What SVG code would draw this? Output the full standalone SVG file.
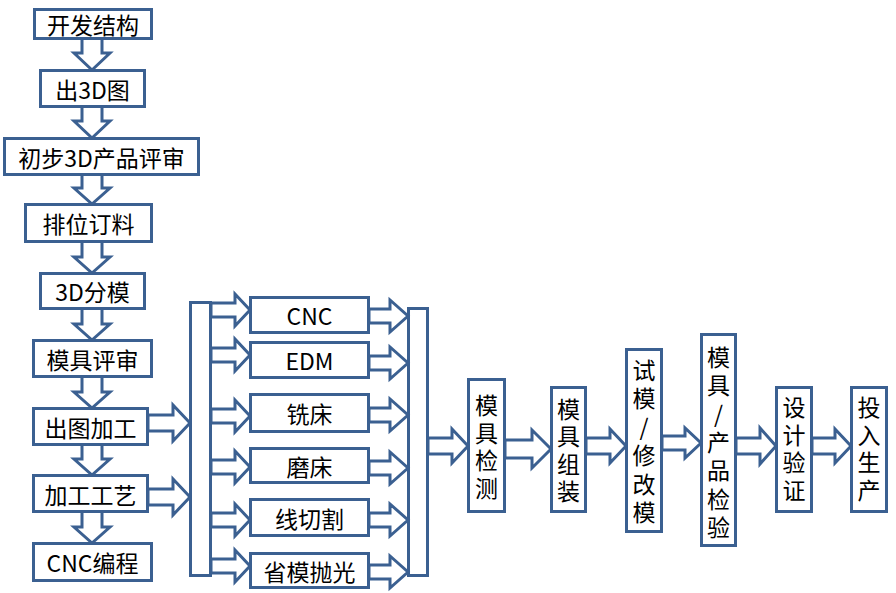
<svg xmlns="http://www.w3.org/2000/svg" width="896" height="593" viewBox="0 0 896 593">
<style>
.b{fill:#fff;stroke:#3B6091;stroke-width:3}
.a{fill:#fff;stroke:#3B6091;stroke-width:3;stroke-linejoin:miter}
.t{font-family:"Noto Sans CJK SC","Noto Sans",sans-serif;font-size:23px;fill:#000;text-anchor:middle;dominant-baseline:central}
</style>
<rect width="896" height="593" fill="#fff"/>
<g id="connectors">
<rect class="b" x="190.5" y="302.5" width="20" height="273"/>
<rect class="b" x="408.5" y="308.5" width="19" height="267"/>
<polygon class="a" points="82,38 102,38 102,53 110,53 92,70 74,53 82,53"/>
<polygon class="a" points="82,106 102,106 102,121 110,121 92,138 74,121 82,121"/>
<polygon class="a" points="82,174 102,174 102,188 110,188 92,204 74,188 82,188"/>
<polygon class="a" points="82,241 102,241 102,257 110,257 92,273 74,257 82,257"/>
<polygon class="a" points="82,308 102,308 102,324 110,324 92,340 74,324 82,324"/>
<polygon class="a" points="82,376 102,376 102,392 110,392 92,408 74,392 82,392"/>
<polygon class="a" points="82,444 102,444 102,459 110,459 92,475 74,459 82,459"/>
<polygon class="a" points="82,511 102,511 102,527 110,527 92,543 74,527 82,527"/>
<polygon class="a" points="148,415 173,415 173,405 190,423 173,441 173,431 148,431"/>
<polygon class="a" points="148,489 173,489 173,479 190,497 173,515 173,505 148,505"/>
<polygon class="a" points="211,303 235,303 235,294 250,310 235,326 235,317 211,317"/>
<polygon class="a" points="211,348 235,348 235,339 250,355 235,371 235,362 211,362"/>
<polygon class="a" points="211,409 235,409 235,400 250,416 235,432 235,423 211,423"/>
<polygon class="a" points="211,460 235,460 235,451 250,467 235,483 235,474 211,474"/>
<polygon class="a" points="211,513 235,513 235,504 250,520 235,536 235,527 211,527"/>
<polygon class="a" points="211,559 235,559 235,550 250,566 235,582 235,573 211,573"/>
<polygon class="a" points="369,309 390,309 390,300 408,316 390,332 390,323 369,323"/>
<polygon class="a" points="369,356 390,356 390,347 408,363 390,379 390,370 369,370"/>
<polygon class="a" points="369,408 390,408 390,399 408,415 390,431 390,422 369,422"/>
<polygon class="a" points="369,461 390,461 390,452 408,468 390,484 390,475 369,475"/>
<polygon class="a" points="369,513 390,513 390,504 408,520 390,536 390,527 369,527"/>
<polygon class="a" points="369,565 390,565 390,556 408,572 390,588 390,579 369,579"/>
<polygon class="a" points="428,438 452,438 452,429 468,446 452,463 452,454 428,454"/>
<polygon class="a" points="505,440 532,440 532,430 551,449 532,468 532,458 505,458"/>
<polygon class="a" points="586,438 610,438 610,429 626,446 610,463 610,454 586,454"/>
<polygon class="a" points="662,436 685,436 685,428 701,443 685,458 685,450 662,450"/>
<polygon class="a" points="736,438 760,438 760,428 776,446 760,464 760,454 736,454"/>
<polygon class="a" points="812,438 835,438 835,429 851,446 835,463 835,454 812,454"/>
</g>
<g id="n1"><rect class="b" x="34.5" y="9.5" width="117" height="29"/><text class="t" x="93" y="24">开发结构</text></g>
<g id="n2"><rect class="b" x="40.5" y="70.5" width="104" height="36"/><text class="t" x="92.5" y="88.5">出3D图</text></g>
<g id="n3"><rect class="b" x="4.5" y="138.5" width="194" height="36"/><text class="t" x="101.5" y="156.5">初步3D产品评审</text></g>
<g id="n4"><rect class="b" x="25.5" y="204.5" width="126" height="37"/><text class="t" x="88.5" y="223">排位订料</text></g>
<g id="n5"><rect class="b" x="40.5" y="273.5" width="104" height="35"/><text class="t" x="92.5" y="291">3D分模</text></g>
<g id="n6"><rect class="b" x="33.5" y="340.5" width="118" height="36"/><text class="t" x="92.5" y="358.5">模具评审</text></g>
<g id="n7"><rect class="b" x="33.5" y="408.5" width="114" height="36"/><text class="t" x="90.5" y="426.5">出图加工</text></g>
<g id="n8"><rect class="b" x="33.5" y="475.5" width="114" height="36"/><text class="t" x="90.5" y="493.5">加工工艺</text></g>
<g id="n9"><rect class="b" x="33.5" y="543.5" width="118" height="37"/><text class="t" x="92.5" y="562">CNC编程</text></g>
<g id="m1"><rect class="b" x="250.5" y="297.5" width="118" height="35"/><text class="t" x="309.5" y="315">CNC</text></g>
<g id="m2"><rect class="b" x="250.5" y="342.5" width="118" height="35"/><text class="t" x="309.5" y="360">EDM</text></g>
<g id="m3"><rect class="b" x="250.5" y="394.5" width="118" height="37"/><text class="t" x="309.5" y="413">铣床</text></g>
<g id="m4"><rect class="b" x="250.5" y="448.5" width="118" height="34"/><text class="t" x="309.5" y="465.5">磨床</text></g>
<g id="m5"><rect class="b" x="250.5" y="499.5" width="118" height="36"/><text class="t" x="309.5" y="517.5">线切割</text></g>
<g id="m6"><rect class="b" x="250.5" y="553.5" width="118" height="34"/><text class="t" x="309.5" y="570.5">省模抛光</text></g>
<g id="r1"><rect class="b" x="468.5" y="379.5" width="36" height="132"/><text class="t" x="486.5"><tspan x="486.5" y="404">模</tspan><tspan x="486.5" y="431.5">具</tspan><tspan x="486.5" y="459">检</tspan><tspan x="486.5" y="486.5">测</tspan></text></g>
<g id="r2"><rect class="b" x="551.5" y="387.5" width="34" height="124"/><text class="t" x="568.5"><tspan x="568.5" y="407.5">模</tspan><tspan x="568.5" y="435">具</tspan><tspan x="568.5" y="462.5">组</tspan><tspan x="568.5" y="490">装</tspan></text></g>
<g id="r3"><rect class="b" x="626.5" y="349.5" width="35" height="182"/><text class="t" x="644"><tspan x="644" y="369">试</tspan><tspan x="644" y="397.4">模</tspan><tspan x="644" y="425.8">/</tspan><tspan x="644" y="454.2">修</tspan><tspan x="644" y="482.6">改</tspan><tspan x="644" y="511">模</tspan></text></g>
<g id="r4"><rect class="b" x="701.5" y="334.5" width="34" height="211"/><text class="t" x="718.5"><tspan x="718.5" y="356">模</tspan><tspan x="718.5" y="384.3">具</tspan><tspan x="718.5" y="412.6">/</tspan><tspan x="718.5" y="441">产</tspan><tspan x="718.5" y="469.3">品</tspan><tspan x="718.5" y="497.6">检</tspan><tspan x="718.5" y="526">验</tspan></text></g>
<g id="r5"><rect class="b" x="776.5" y="387.5" width="35" height="124"/><text class="t" x="794"><tspan x="794" y="406">设</tspan><tspan x="794" y="433.7">计</tspan><tspan x="794" y="461.3">验</tspan><tspan x="794" y="489">证</tspan></text></g>
<g id="r6"><rect class="b" x="851.5" y="387.5" width="35" height="124"/><text class="t" x="869"><tspan x="869" y="406">投</tspan><tspan x="869" y="433.7">入</tspan><tspan x="869" y="461.3">生</tspan><tspan x="869" y="489">产</tspan></text></g>
</svg>
